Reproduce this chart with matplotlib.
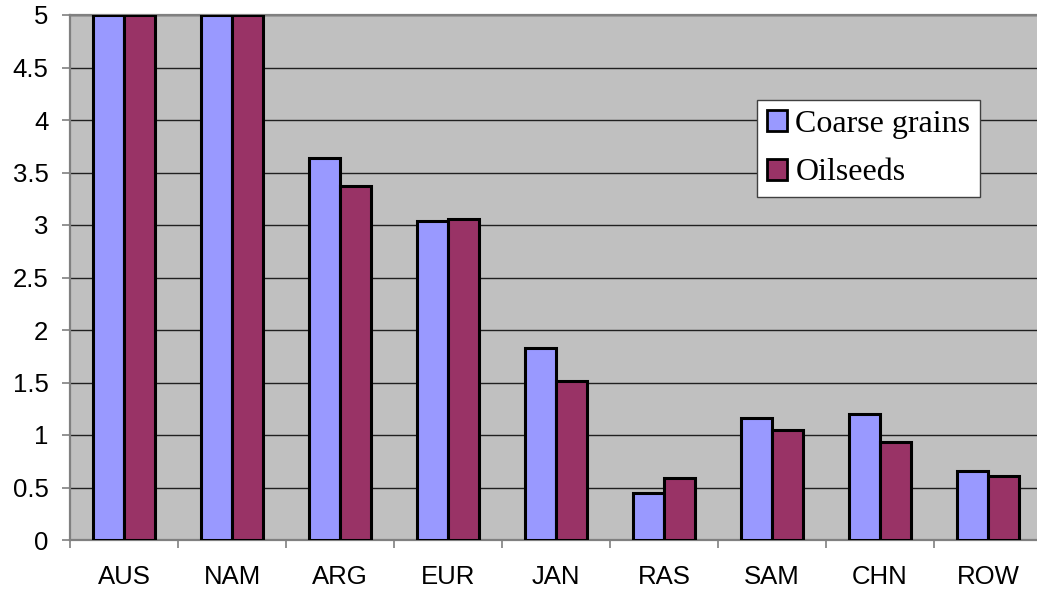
import matplotlib
matplotlib.use("Agg")
import matplotlib.pyplot as plt
import numpy as np

categories = ["AUS", "NAM", "ARG", "EUR", "JAN", "RAS", "SAM", "CHN", "ROW"]
coarse_grains = [5.0, 5.0, 3.64, 3.04, 1.83, 0.45, 1.16, 1.20, 0.66]
oilseeds = [5.0, 5.0, 3.37, 3.06, 1.51, 0.59, 1.05, 0.93, 0.61]
yticks = [0, 0.5, 1, 1.5, 2, 2.5, 3, 3.5, 4, 4.5, 5]
ytick_labels = ["0", "0.5", "1", "1.5", "2", "2.5", "3", "3.5", "4", "4.5", "5"]

W, H = 1037, 596
fig = plt.figure(figsize=(W / 100, H / 100), dpi=100)
left, right, top, bottom = 70, 1042, 15, 540
ax = fig.add_axes([left / W, 1 - bottom / H, (right - left) / W, (bottom - top) / H])
ax.set_facecolor("#C0C0C0")

x = np.arange(len(categories))
bw = 1 / 3.5
edge_lw = 2.2
ax.bar(x - bw / 2, coarse_grains, width=bw, color="#9999FF", edgecolor="black",
       linewidth=edge_lw, label="Coarse grains", zorder=3)
ax.bar(x + bw / 2, oilseeds, width=bw, color="#993366", edgecolor="black",
       linewidth=edge_lw, label="Oilseeds", zorder=3)

ax.set_xlim(-0.5, len(categories) - 0.5)
ax.set_ylim(0, 5)
ax.set_yticks(yticks)
ax.set_yticklabels(ytick_labels, fontsize=18.5, family="Liberation Sans")
ax.yaxis.grid(True, color="#202020", linewidth=1.0, zorder=1)
ax.set_axisbelow(True)

ax.set_xticks(x)
ax.set_xticklabels(categories, fontsize=18.5, family="Liberation Sans")
ax.tick_params(axis="x", which="major", length=0, pad=18)
ax.set_xticks(np.arange(len(categories) + 1) - 0.5, minor=True)
ax.tick_params(axis="x", which="minor", length=6, width=1.2, color="#808080", direction="out")
ax.tick_params(axis="y", which="major", length=6, width=1.2, color="#808080", pad=9.5)

for s in ["left", "top", "bottom"]:
    ax.spines[s].set_color("#808080")
    ax.spines[s].set_linewidth(1.6)
ax.spines["right"].set_visible(False)
ax.spines["left"].set_zorder(4)

leg = ax.legend(loc="upper left", bbox_to_anchor=(757 / W, 1 - 100 / H),
                bbox_transform=fig.transFigure, borderaxespad=0,
                prop={"family": "Liberation Serif", "size": 23},
                frameon=True, fancybox=False, framealpha=1, edgecolor="#404040",
                handlelength=0.65, handleheight=0.65, handletextpad=0.25,
                labelspacing=0.62, borderpad=0.3)
leg.get_frame().set_linewidth(1.0)
for h in leg.legend_handles:
    h.set_linewidth(2.0)

fig.savefig("out.png", dpi=100)
